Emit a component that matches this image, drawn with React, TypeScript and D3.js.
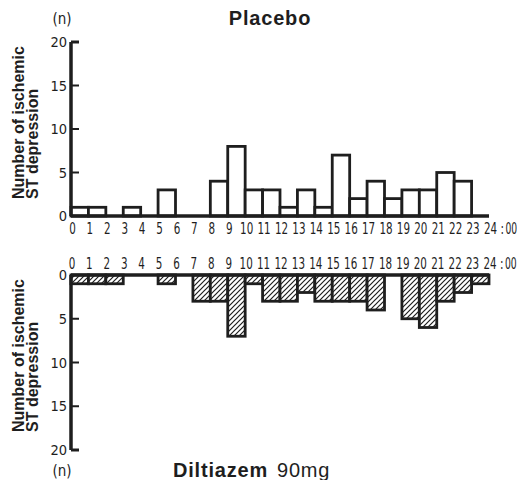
import React from "react"
import * as d3 from "d3"

// hourly counts of ischemic ST depression episodes
const hours = [0, 1, 2, 3, 4, 5, 6, 7, 8, 9, 10, 11, 12, 13, 14, 15, 16, 17, 18, 19, 20, 21, 22, 23]
const placebo = [1, 1, 0, 1, 0, 3, 0, 0, 4, 8, 3, 3, 1, 3, 1, 7, 2, 4, 2, 3, 3, 5, 4, 0]
const diltiazem = [1, 1, 1, 0, 0, 1, 0, 3, 3, 7, 1, 3, 3, 2, 3, 3, 3, 4, 0, 5, 6, 3, 2, 1]
const hourLabels = ["0", "1", "2", "3", "4", "5", "6", "7", "8", "9", "10", "11", "12", "13", "14", "15", "16", "17", "18", "19", "20", "21", "22", "23", "24"]
const yTicks = [0, 5, 10, 15, 20]

const W = 517
const H = 480
const ink = "#1e1e1e"
const narrow = "'Liberation Sans Narrow', 'DejaVu Sans Condensed', sans-serif"
const sans = "'Liberation Sans', Arial, sans-serif"

const x = d3.scaleLinear().domain([0, 24]).range([71, 489])
const yTop = d3.scaleLinear().domain([0, 20]).range([216, 42])
const yBot = d3.scaleLinear().domain([0, 20]).range([275, 450])

const HourLabels = ({ y, dx }) => (
	<g fontFamily={narrow} fontSize={16} fill={ink}>
		{hourLabels.map((l, i) => (
			<text
				key={l}
				transform={`translate(${x(i) + dx},${y}) scale(0.72,1)`}
				textAnchor="middle"
			>
				{l}
			</text>
		))}
		{/* the ": 00" after 24 */}
		<text transform={`translate(${x(24) + dx + 10},${y}) scale(0.72,1)`}>:</text>
		<text transform={`translate(${x(24) + dx + 15},${y}) scale(0.64,1)`}>00</text>
	</g>
)

const YAxis = ({ scale, labelEnd }) => {
	const [a, b] = scale.range()
	return (
		<g>
			<line x1={x(0)} x2={x(0)} y1={a} y2={b} stroke={ink} strokeWidth={3.5} />
			{yTicks.map(t => (
				<g key={t}>
					{t > 0 && (
						<line
							x1={x(0)}
							x2={x(0) + 8}
							y1={scale(t)}
							y2={scale(t)}
							stroke={ink}
							strokeWidth={t === 20 ? 3 : 2}
						/>
					)}
					<text
						x={labelEnd}
						y={scale(t) + 5}
						textAnchor="end"
						fontFamily={narrow}
						fontSize={14.5}
						fill={ink}
					>
						{t}
					</text>
				</g>
			))}
		</g>
	)
}

const AxisTitle = ({ startY }) => (
	<g fontFamily={sans} fontWeight="bold" fontSize={16} fill={ink}>
		<text transform={`translate(24,${startY}) rotate(-90)`}>Number of ischemic</text>
		<text transform={`translate(38,${startY}) rotate(-90)`}>ST depression</text>
	</g>
)

export default function App() {
	return (
		<svg
			width={W}
			height={H}
			viewBox={`0 0 ${W} ${H}`}
			style={{ position: "absolute", left: 0, top: 0, background: "#fff" }}
		>
			<defs>
				<pattern id="hatch" patternUnits="userSpaceOnUse" width={5} height={5}>
					<rect width={5} height={5} fill="#fff" />
					<path d="M0,5 L5,0 M-1,1 L1,-1 M4,6 L6,4" stroke={ink} strokeWidth={1.2} />
				</pattern>
			</defs>

			{/* Placebo */}
			<text x={270} y={25} textAnchor="middle" fontFamily={sans} fontWeight="bold" fontSize={20} letterSpacing={0.8} fill={ink}>
				Placebo
			</text>
			<text x={62} y={24} textAnchor="middle" fontFamily={narrow} fontSize={15} fill={ink}>
				(n)
			</text>
			<AxisTitle startY={199} />
			{hours.map(h =>
				placebo[h] > 0 ? (
					<rect
						key={h}
						x={x(h)}
						y={yTop(placebo[h])}
						width={x(h + 1) - x(h)}
						height={yTop(0) - yTop(placebo[h])}
						fill="#fff"
						stroke={ink}
						strokeWidth={2.8}
					/>
				) : null,
			)}
			<line x1={x(0)} x2={x(24)} y1={yTop(0)} y2={yTop(0)} stroke={ink} strokeWidth={3.5} />
			<YAxis scale={yTop} labelEnd={67} />
			<HourLabels y={234} dx={1.5} />

			{/* Diltiazem */}
			{hours.map(h =>
				diltiazem[h] > 0 ? (
					<rect
						key={h}
						x={x(h)}
						y={yBot(0)}
						width={x(h + 1) - x(h)}
						height={yBot(diltiazem[h]) - yBot(0)}
						fill="url(#hatch)"
						stroke={ink}
						strokeWidth={2.8}
					/>
				) : null,
			)}
			<line x1={x(0)} x2={x(24)} y1={yBot(0)} y2={yBot(0)} stroke={ink} strokeWidth={3.5} />
			<YAxis scale={yBot} labelEnd={67} />
			<HourLabels y={269} dx={1} />
			<AxisTitle startY={432} />
			<text x={62} y={476} textAnchor="middle" fontFamily={narrow} fontSize={15} fill={ink}>
				(n)
			</text>
			<text x={173} y={477} fontFamily={sans} fontWeight="bold" fontSize={20} letterSpacing={0.8} fill={ink}>
				Diltiazem
				<tspan dx={9} fontWeight="normal" fontSize={20} letterSpacing={0.8}>
					90mg
				</tspan>
			</text>
		</svg>
	)
}
